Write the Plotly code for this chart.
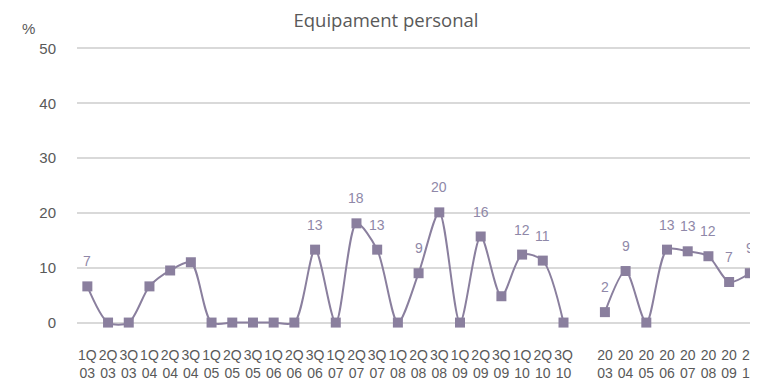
import plotly.graph_objects as go

# ---- data ----
quarters = ["1Q<br>03", "2Q<br>03", "3Q<br>03",
            "1Q<br>04", "2Q<br>04", "3Q<br>04",
            "1Q<br>05", "2Q<br>05", "3Q<br>05",
            "1Q<br>06", "2Q<br>06", "3Q<br>06",
            "1Q<br>07", "2Q<br>07", "3Q<br>07",
            "1Q<br>08", "2Q<br>08", "3Q<br>08",
            "1Q<br>09", "2Q<br>09", "3Q<br>09",
            "1Q<br>10", "2Q<br>10", "3Q<br>10"]
q_values = [6.6, 0, 0, 6.6, 9.5, 11.0, 0, 0, 0, 0, 0, 13.3,
            0, 18.1, 13.3, 0, 9.0, 20.1, 0, 15.7, 4.8, 12.4, 11.3, 0]
q_labels = ["7", "", "", "", "", "", "", "", "", "", "", "13",
            "", "18", "13", "", "9", "20", "", "16", "", "12", "11", ""]

years = ["20<br>03", "20<br>04", "20<br>05", "20<br>06",
         "20<br>07", "20<br>08", "20<br>09", "20<br>10"]
y_values = [1.9, 9.4, 0, 13.3, 13.0, 12.1, 7.4, 9.0]
y_labels = ["2", "9", "", "13", "13", "12", "7", "9"]

gap = [" "]
categories = quarters + gap + years

title_text = "Equipament personal"
y_ticks = [0, 10, 20, 30, 40, 50]

# ---- style ----
COLOR = "#8a7f9e"
LABEL_COLOR = "#8f88a8"
TEXT = "#595959"
FONT = "Liberation Sans, Arial, sans-serif"

# page body has an 8px margin: figure is drawn 8px in from the window edge
OFF = 8
W, H = 758 - OFF, 387 - OFF
PL, PT = 76.6 - OFF, 42.5 - OFF
PW, PH = W - PL, 297

fig = go.Figure()
for xs, ys in ((quarters, q_values), (years, y_values)):
    fig.add_trace(go.Scatter(
        x=xs, y=ys, mode="lines+markers",
        line=dict(color=COLOR, width=2, shape="spline", smoothing=0.8),
        marker=dict(symbol="square", size=10, color=COLOR),
        showlegend=False, hoverinfo="x+y",
    ))

annotations = []
for xs, ys, labs in ((quarters, q_values, q_labels), (years, y_values, y_labels)):
    for x, y, t in zip(xs, ys, labs):
        if t:
            annotations.append(dict(
                x=x, y=y, text=t, showarrow=False, yshift=25,
                xref="x", yref="y",
                font=dict(family=FONT, size=14, color=LABEL_COLOR)))

annotations.append(dict(
    text="%", xref="paper", yref="paper",
    x=(28 - OFF - PL) / PW, y=1 + (PT - (28 - OFF)) / PH,
    xanchor="center", yanchor="middle", showarrow=False,
    font=dict(family=FONT, size=15, color=TEXT)))

fig.update_layout(
    width=W, height=H,
    margin=dict(l=PL, r=0, t=PT, b=H - PT - PH),
    paper_bgcolor="white", plot_bgcolor="white",
    title=dict(text=title_text, x=(386 - OFF) / W, xanchor="center",
               y=1 - (20.5 - OFF) / H, yanchor="middle", xref="container", yref="container",
               font=dict(family="Open Sans, sans-serif", size=18.5, color=TEXT)),
    annotations=annotations,
    xaxis=dict(type="category", categoryorder="array", categoryarray=categories,
               range=[-0.5, 32.25], showgrid=False, zeroline=False, showline=False,
               ticks="", tickangle=0, ticklabelstandoff=6, ticklabeloverflow="allow",
               tickfont=dict(family=FONT, size=14, color=TEXT)),
    yaxis=dict(range=[-3, 51], tickvals=y_ticks, showgrid=True,
               gridcolor="#d9d9d9", gridwidth=1.5, zeroline=False, showline=False,
               ticks="", ticklabelstandoff=20,
               tickfont=dict(family=FONT, size=15, color=TEXT)),
)

fig.write_html("out.html")
